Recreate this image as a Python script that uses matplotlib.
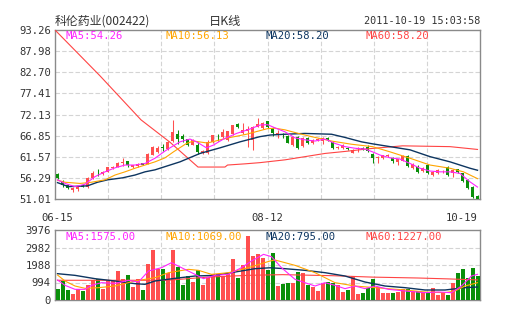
import matplotlib
matplotlib.use('Agg')
import matplotlib.pyplot as plt
import numpy as np

# ---------------- data ----------------
dates = ['06-15', '08-12', '10-19']
date_idx = [0, 42, 84]

opens = [57.3, 55.6, 54.4, 53.3, 53.5, 54.4, 53.9, 56.2, 57.5, 57.2,
         57.8, 58.7, 59.1, 60.0, 60.5, 58.9, 59.3, 59.9, 59.8, 62.0,
         62.7, 63.9, 63.5, 65.5, 67.2, 66.8, 65.9, 64.6, 64.5, 62.5,
         62.5, 65.2, 66.5, 66.4, 65.8, 67.2, 69.7, 67.6, 67.9, 65.8,
         69.1, 68.8, 70.4, 68.8, 67.0, 67.3, 66.8, 64.5, 66.6, 64.3,
         66.3, 64.9, 65.8, 65.5, 66.3, 65.2, 63.7, 63.7, 63.8, 62.6,
         63.6, 63.8, 64.1, 62.3, 61.2, 61.3, 61.8, 61.3, 60.3, 60.6,
         61.8, 58.7, 59.1, 58.0, 59.5, 57.0, 57.4, 57.9, 59.1, 57.4,
         58.4, 57.4, 55.8, 54.1, 51.8]
closes = [56.2, 54.4, 53.7, 53.8, 54.1, 54.1, 56.2, 57.6, 57.4, 57.8,
          58.9, 58.9, 60.1, 60.2, 59.5, 59.4, 59.7, 59.6, 62.3, 64.0,
          63.8, 63.8, 65.3, 67.8, 66.0, 65.9, 64.4, 65.8, 62.8, 63.0,
          65.3, 67.0, 66.4, 67.8, 68.0, 69.5, 68.9, 68.3, 68.6, 69.1,
          69.8, 70.0, 69.0, 67.4, 67.4, 67.0, 65.1, 66.6, 63.7, 66.2,
          64.9, 65.7, 65.9, 66.2, 65.7, 63.7, 64.1, 64.5, 63.4, 63.3,
          63.7, 63.5, 63.0, 61.3, 61.6, 61.9, 62.0, 60.6, 60.9, 61.8,
          59.3, 59.7, 57.8, 58.8, 57.4, 57.8, 58.3, 58.0, 57.0, 58.3,
          57.8, 55.5, 53.7, 51.6, 51.1]
highs = [57.4, 55.8, 54.5, 54.0, 54.3, 54.6, 56.4, 58.1, 58.6, 58.0,
         59.0, 59.3, 60.3, 61.2, 60.6, 59.6, 59.9, 60.0, 62.5, 64.2,
         64.3, 64.7, 65.6, 70.8, 68.3, 67.2, 66.1, 66.0, 65.2, 63.2,
         65.7, 67.1, 67.2, 68.5, 68.1, 69.6, 69.9, 69.9, 69.3, 69.3,
         71.2, 70.2, 70.6, 69.0, 68.2, 67.6, 67.0, 66.8, 66.8, 66.4,
         66.5, 65.9, 66.3, 66.4, 66.5, 65.4, 64.3, 64.7, 64.0, 63.5,
         64.1, 64.0, 64.5, 62.5, 61.8, 62.1, 62.2, 61.5, 61.1, 62.0,
         62.0, 59.9, 59.5, 59.0, 59.7, 58.0, 58.5, 58.2, 59.3, 58.5,
         58.6, 57.6, 56.0, 54.3, 52.0]
lows = [55.9, 54.0, 53.5, 52.7, 53.0, 53.9, 53.8, 56.0, 56.8, 57.1,
        57.7, 58.4, 59.0, 59.2, 58.9, 58.7, 59.1, 59.4, 59.7, 61.9,
        62.5, 63.0, 63.2, 65.3, 64.7, 65.2, 64.2, 64.5, 62.2, 62.3,
        62.3, 65.0, 65.5, 66.2, 65.5, 67.0, 68.7, 67.2, 64.1, 63.3,
        68.9, 68.5, 68.8, 66.8, 66.2, 66.3, 64.9, 64.3, 63.5, 64.0,
        64.7, 64.7, 65.4, 64.8, 65.5, 63.5, 63.5, 63.5, 63.2, 62.4,
        62.8, 63.2, 62.8, 59.9, 59.9, 61.1, 61.6, 59.9, 59.5, 60.4,
        59.1, 58.5, 57.4, 57.8, 57.2, 56.8, 57.2, 57.6, 56.8, 56.6,
        57.6, 55.3, 53.5, 51.2, 51.0]
volumes = [644, 1079, 568, 330, 615, 520, 852, 1120, 1220, 644,
           1150, 1100, 1660, 1211, 1420, 738, 1211, 568, 2044, 2839,
           1742, 1742, 1514, 2839, 1880, 852, 1390, 1041, 1720, 852,
           1330, 1450, 1450, 1390, 1495, 2355, 1268, 1975, 3640, 2510,
           2600, 2360, 1680, 2688, 800, 900, 984, 984, 1600, 1514,
           840, 757, 511, 946, 1022, 984, 852, 473, 549, 1363,
           360, 416, 700, 1190, 757, 416, 416, 416, 454, 606,
           606, 511, 511, 454, 416, 700, 265, 454, 265, 984,
           1552, 1780, 1268, 1836, 1363]

ma5_x = [0, 1.5, 3.5, 5.5, 7.5, 9.5, 11.5, 13.5, 15.5, 17.5, 19.5, 21.5, 22.5, 24.5,
         26.5, 27.8, 29.8, 31.2, 33.2, 35.8, 38.5, 40.5, 42, 43.5, 45.5, 47.5, 49.5,
         51.5, 53.5, 55.5, 57.5, 59.5, 61.5, 63, 64.5, 66.5, 68.5, 70.5, 72.5, 74.5,
         76.5, 78.5, 80.5, 82.5, 84]
ma5_y = [55.8, 54.9, 54.1, 54.7, 56.6, 57.8, 58.8, 59.5, 59.5, 59.9, 61.2, 63.0, 63.8, 65.3,
         66.0, 65.3, 63.8, 64.5, 66.0, 67.4, 68.5, 69.5, 69.6, 68.8, 67.8, 66.3, 65.8,
         65.5, 66.0, 64.9, 64.1, 63.7, 63.5, 62.8, 62.0, 61.3, 61.0, 59.9, 58.7, 58.0,
         57.8, 57.8, 57.4, 55.3, 54.0]
ma10_x = [0, 1.5, 4.5, 6.8, 9.5, 11.5, 13.5, 15.5, 17.5, 19.5, 21.5, 23.2, 25.8, 27.2,
          30, 33.8, 37.8, 42, 43.5, 45.5, 48.2, 50.8, 54.8, 58.8, 63, 66.5, 70.5, 74.5,
          78.5, 81.2, 84]
ma10_y = [55.7, 55.2, 54.9, 55.2, 55.8, 57.0, 57.8, 58.7, 59.5, 60.3, 61.3, 62.8, 64.9, 65.5,
          65.0, 66.2, 67.2, 68.6, 68.7, 68.3, 67.4, 66.6, 65.5, 64.7, 64.1, 62.8, 61.2, 59.5,
          58.7, 57.8, 56.1]
ma20_x = [0, 2.2, 6, 8, 10, 13, 15.5, 17.5, 19.5, 21, 24.5, 28.5, 32.5, 36.5, 40.5, 42.5,
          45.5, 49.5, 54.8, 57.5, 60.8, 63, 66.5, 70.5, 74.5, 78.5, 82.5, 84]
ma20_y = [55.1, 54.1, 54.3, 55.2, 55.8, 56.3, 57.0, 57.8, 58.3, 58.9, 60.3, 62.4, 63.8, 65.3,
          66.6, 67.0, 67.2, 67.4, 67.2, 66.4, 65.3, 64.8, 64.1, 63.3, 61.6, 60.3, 58.7, 58.2]
ma60_x = [-0.5, 8.5, 16.7, 22.5, 28.1, 33.5, 34, 37.5, 40.5, 45.5, 49.5, 53.5, 57.5, 62.5,
          69, 78.5, 84]
ma60_y = [93.26, 81.8, 70.8, 65.2, 59.0, 59.0, 59.5, 59.8, 60.1, 60.8, 61.6, 62.4, 62.9, 63.6,
          64.3, 64.1, 63.4]

vma5_x = [0, 1.5, 3.5, 5.5, 6.8, 8.8, 11.5, 14.2, 16.2, 18.2, 20.8, 22.8, 24.8, 27.5, 29.2,
          31.5, 34.2, 36.8, 38.8, 41.2, 42.8, 44.8, 47.5, 49.5, 51.5, 53.5, 55.5, 57.5, 59.5,
          61.5, 63.5, 66.2, 69.5, 73.5, 76.2, 78.8, 80.8, 82.8, 84]
vma5_y = [1136, 833, 606, 606, 833, 984, 946, 1117, 1022, 1647, 1836, 2120, 1836, 1458, 1211,
          1400, 1458, 1836, 2215, 2593, 2461, 1836, 1174, 984, 795, 984, 833, 644, 795,
          644, 795, 606, 511, 416, 454, 416, 795, 1363, 1458]
vma10_x = [0, 1.5, 3.5, 5.5, 8.2, 11.5, 15.5, 19.5, 22.2, 26.2, 28.2, 30.8, 34.2, 38.2, 42.5,
           43.5, 47.5, 51.5, 55.5, 59.5, 63.5, 69.5, 73.5, 77.5, 79.5, 81.5, 84]
vma10_y = [1420, 1079, 795, 663, 700, 795, 1079, 1268, 1552, 1742, 1685, 1458, 1552, 1836, 2215,
           2272, 1969, 1552, 984, 795, 700, 568, 454, 416, 511, 795, 984]
vma20_x = [0, 3.5, 7.5, 11.5, 15.5, 17.5, 19.5, 23.5, 27.5, 31.5, 35.5, 39.5, 42.5, 45.5, 49.5,
           53.5, 57.5, 61.5, 65.5, 69.5, 73.5, 77.5, 81.5, 84]
vma20_y = [1495, 1400, 1211, 1079, 928, 890, 1079, 1230, 1363, 1400, 1590, 1779, 1830, 1779, 1685,
           1552, 1363, 1022, 795, 700, 568, 568, 700, 738]
vma60_x = [0, 22, 30, 38, 45, 55, 63, 72, 78, 84]
vma60_y = [1120, 1120, 1300, 1400, 1440, 1380, 1300, 1250, 1200, 1140]

price_labels = ['93.26', '87.98', '82.70', '77.41', '72.13', '66.85', '61.57', '56.29', '51.01']
vol_labels = ['3976', '2982', '1988', '994', '0']

title_text = '科伦药业(002422)'
kline_text = '日K线'
time_text = '2011-10-19 15:03:58'
ma_texts = ['MA5:54.26', 'MA10:56.13', 'MA20:58.20', 'MA60:58.20']
vma_texts = ['MA5:1575.00', 'MA10:1069.00', 'MA20:795.00', 'MA60:1227.00']

# ---------------- style ----------------
W, H = 505, 330
RED = '#ff4f4f'
GREEN = '#0a8f0a'
C_MA5 = '#ff22ff'
C_MA10 = '#ffa500'
C_MA20 = '#0d3560'
C_MA60 = '#ff4444'
GRID = '#d4d4d4'
FRAME = '#8a8a8a'
TXT = '#333333'
MONO = 'DejaVu Sans Mono'
CJK = ['Noto Sans CJK SC', 'DejaVu Sans']
LW = 0.8

fig = plt.figure(figsize=(W / 100, H / 100), dpi=100)
fig.patch.set_facecolor('white')

ax = fig.add_axes([55 / W, 1 - 199 / H, 425 / W, 169 / H])
axv = fig.add_axes([55 / W, 1 - 300 / H, 425 / W, 70 / H])

n = len(closes)
xs = np.arange(n)
o = np.array(opens); c = np.array(closes)
up = c >= o
cols = [RED if u else GREEN for u in up]

for a in (ax, axv):
    a.set_xlim(-0.5, n - 0.5)
    for k in range(1, 8):
        a.axvline(-0.5 + k * n / 8, color=GRID, lw=0.8, ls=(0, (4, 2)), zorder=0)
    for s in a.spines.values():
        s.set_color(FRAME)
        s.set_linewidth(1.0)
    a.tick_params(length=0, colors=TXT, labelsize=7.6, pad=3)

# ----- price panel -----
ptick = [float(s) for s in price_labels]
ax.set_ylim(ptick[-1], ptick[0])
ax.set_yticks(ptick)
ax.set_yticklabels(price_labels, family=MONO, fontsize=7.6, color=TXT)
for yv in ptick[1:-1]:
    ax.axhline(yv, color=GRID, lw=0.8, ls=(0, (4, 2)), zorder=0)

ax.vlines(xs, lows, highs, colors=cols, lw=0.75, zorder=3)
body_bot = np.minimum(o, c)
body_h = np.maximum(np.abs(c - o), 0.14)
ax.bar(xs, body_h, bottom=body_bot, width=0.66, color=cols, linewidth=0, zorder=4)

ax.plot(ma60_x, ma60_y, color=C_MA60, lw=LW, zorder=5)
ax.plot(ma20_x, ma20_y, color=C_MA20, lw=1.0, zorder=5)
ax.plot(ma10_x, ma10_y, color=C_MA10, lw=LW, zorder=6)
ax.plot(ma5_x, ma5_y, color=C_MA5, lw=LW, zorder=7)

ax.set_xticks(date_idx)
ax.set_xticklabels(dates, family=MONO, fontsize=7.6, color=TXT)
ax.tick_params(axis='x', pad=10)
ax.get_xticklabels()[-1].set_horizontalalignment('right')
ax.get_xticklabels()[-1].set_x(date_idx[-1] + 1.2)

# ----- volume panel -----
vtick = [float(s) for s in vol_labels]
axv.set_ylim(0, vtick[0])
axv.set_yticks(vtick)
axv.set_yticklabels(vol_labels, family=MONO, fontsize=7.6, color=TXT)
for yv in vtick[1:-1]:
    axv.axhline(yv, color=GRID, lw=0.8, ls=(0, (4, 2)), zorder=0)
axv.bar(xs, volumes, width=0.8, color=cols, linewidth=0, zorder=3)
axv.plot(vma60_x, vma60_y, color=C_MA60, lw=LW, zorder=5)
axv.plot(vma20_x, vma20_y, color=C_MA20, lw=1.0, zorder=5)
axv.plot(vma10_x, vma10_y, color=C_MA10, lw=LW, zorder=6)
axv.plot(vma5_x, vma5_y, color=C_MA5, lw=LW, zorder=7)
axv.set_xticks([])

# ----- texts -----
fig.text(55 / W, 1 - 21 / H, title_text, family=CJK, fontsize=8.6, color=TXT, va='center', ha='left')
fig.text(225 / W, 1 - 21 / H, kline_text, family=CJK, fontsize=8.8, color=TXT, va='center', ha='center')
fig.text(480 / W, 1 - 21 / H, time_text, family=MONO, fontsize=7.3, color=TXT, va='center', ha='right')

ma_cols = [C_MA5, C_MA10, C_MA20, C_MA60]
for k, (t, cc) in enumerate(zip(ma_texts, ma_cols)):
    fig.text((65 + 100 * k) / W, 1 - 36 / H, t, family=MONO, fontsize=7.6, color=cc, va='center', ha='left', zorder=10)
for k, (t, cc) in enumerate(zip(vma_texts, ma_cols)):
    fig.text((65 + 100 * k) / W, 1 - 237 / H, t, family=MONO, fontsize=7.6, color=cc, va='center', ha='left', zorder=10)

fig.savefig('out.png', dpi=100, facecolor='white')
